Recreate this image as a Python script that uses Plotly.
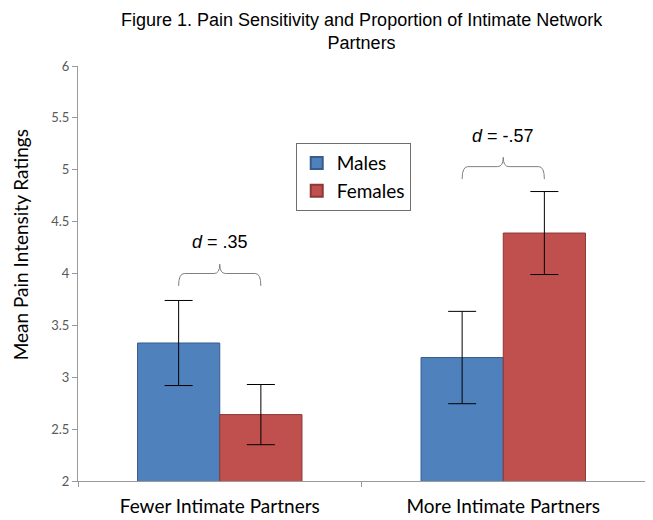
import plotly.graph_objects as go

categories = ["Fewer Intimate Partners", "More Intimate Partners"]
males = [3.33, 3.19]
males_err = [0.41, 0.445]
females = [2.64, 4.39]
females_err = [0.29, 0.40]
effect_labels = ["<i>d</i> = .35", "<i>d</i> = -.57"]
bracket_levels = [4.0, 5.03]
y_ticks = [2, 2.5, 3, 3.5, 4, 4.5, 5, 5.5, 6]

BODY = "Lato, 'Open Sans', sans-serif"
TITLE = "'Liberation Sans', Arial, sans-serif"

fig = go.Figure()
fig.add_trace(go.Bar(
    x=categories, y=males, name="Males",
    marker=dict(color="#4F81BD", line=dict(color="#385D8A", width=1)),
    error_y=dict(type="data", array=males_err, color="black", thickness=1, width=14),
))
fig.add_trace(go.Bar(
    x=categories, y=females, name="Females",
    marker=dict(color="#C0504D", line=dict(color="#8C3836", width=1)),
    error_y=dict(type="data", array=females_err, color="black", thickness=1, width=14),
))

bargap = 0.42
half = (1 - bargap) / 4  # offset of each bar centre from category centre
drop = 0.12
peak = 0.09
for i, (lvl, lab) in enumerate(zip(bracket_levels, effect_labels)):
    x0, x1 = i - half, i + half
    path = (f"M {x0},{lvl - drop} Q {x0},{lvl} {x0 + 0.02},{lvl} "
            f"L {i - 0.02},{lvl} Q {i},{lvl} {i},{lvl + peak} "
            f"Q {i},{lvl} {i + 0.02},{lvl} L {x1 - 0.02},{lvl} "
            f"Q {x1},{lvl} {x1},{lvl - drop}")
    fig.add_shape(type="path", path=path, xref="x", yref="y",
                  line=dict(color="#808080", width=1))
    fig.add_annotation(x=i, y=lvl + 0.30, xref="x", yref="y", text=lab,
                       showarrow=False, font=dict(family=TITLE, size=18, color="black"))

fig.add_annotation(
    text="Figure 1. Pain Sensitivity and Proportion of Intimate Network<br>Partners",
    x=0.5, y=1.082, xref="paper", yref="paper", xanchor="center", yanchor="middle",
    showarrow=False, font=dict(family=TITLE, size=18, color="black"))

fig.add_annotation(
    text="Mean Pain Intensity Ratings", textangle=-90, borderpad=0,
    x=-0.1235, y=0.569, xref="paper", yref="paper", xanchor="left", yanchor="middle",
    showarrow=False, font=dict(family=BODY, size=19, color="black"))

fig.update_layout(
    width=645, height=512,
    margin=dict(l=70, r=8, t=58, b=39),
    paper_bgcolor="white", plot_bgcolor="white",
    barmode="group", bargap=bargap, bargroupgap=0,
    showlegend=True,
    legend=dict(x=0.384, y=0.814, xanchor="left", yanchor="top",
                bordercolor="#6f6f6f", borderwidth=1, bgcolor="white",
                font=dict(family=BODY, size=19, color="black"),
                itemsizing="constant", tracegroupgap=4),
    xaxis=dict(type="category", showline=True, linecolor="#9a9a9a", linewidth=1,
               ticks="outside", tickson="boundaries", ticklen=5, tickcolor="#9a9a9a",
               ticklabelstandoff=8, automargin=False,
               tickfont=dict(family=BODY, size=19, color="black"),
               showgrid=False, range=[-0.5, 1.5]),
    yaxis=dict(range=[2, 6], tickvals=y_ticks, ticktext=[f"{v:g}" for v in y_ticks],
               showline=True, linecolor="#9a9a9a", linewidth=1,
               ticks="outside", ticklen=5, tickcolor="#9a9a9a", automargin=False,
               tickfont=dict(family=BODY, size=13, color="#595959"),
               showgrid=False, zeroline=False),
)

fig.write_html("out.html")
